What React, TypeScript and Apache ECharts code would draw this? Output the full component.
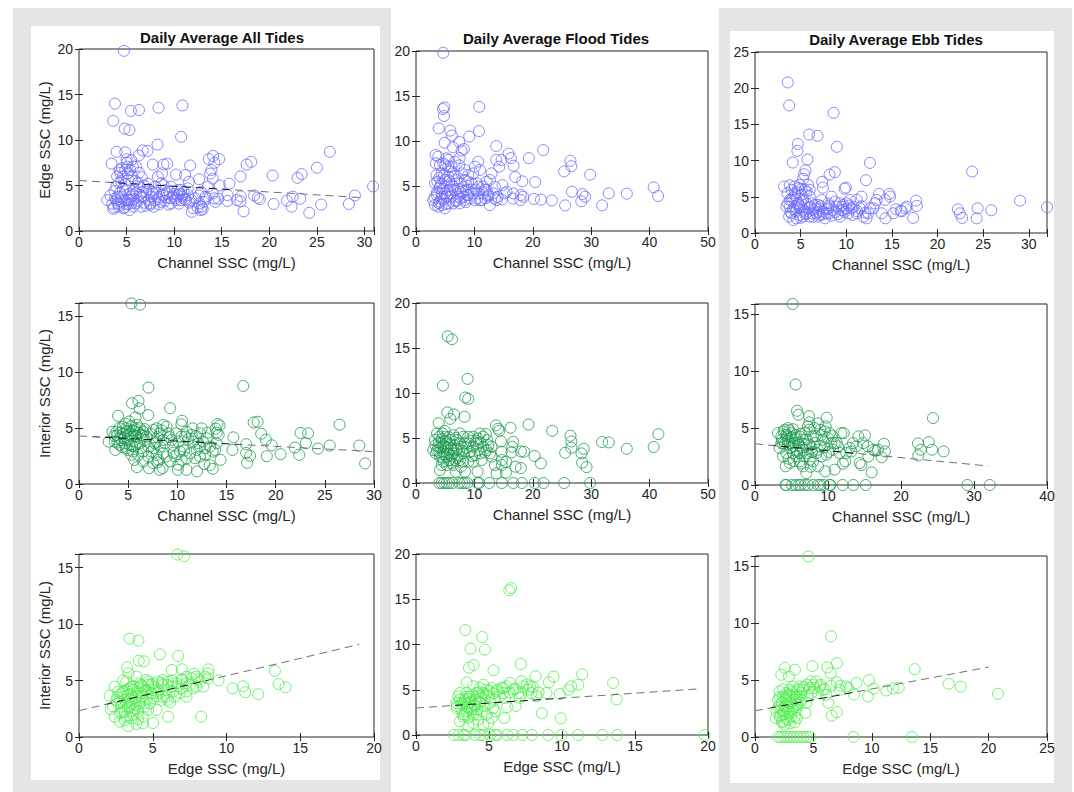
import React, { useEffect, useRef } from 'react';
import * as echarts from 'echarts';

// ---------- Data ----------
const allEdgeVsChannel: [number, number][] = [
  [4.72,19.8],[3.78,14.0],[3.6,12.1],[5.45,13.2],[6.3,13.3],[8.36,13.55],[10.87,13.8],[4.8,11.25],[5.3,11.1],[10.73,10.35],
  [8.25,9.5],[3.95,8.7],[4.86,8.65],[6.7,8.85],[7.2,8.8],[6.3,8.3],[3.43,7.4],[5.03,7.5],[7.76,7.3],[8.88,7.3],
  [9.27,7.4],[11.68,7.2],[13.64,7.9],[14.09,8.25],[14.72,7.9],[14.23,7.5],[13.92,6.7],[13.78,6.3],[14.06,5.75],[10.2,6.2],
  [11.15,6.15],[12.62,5.7],[11.54,5.4],[14.8,5.0],[15.8,5.2],[16.96,6.0],[17.62,7.3],[18.1,7.6],[20.35,6.1],[22.97,5.85],
  [23.4,6.25],[25.0,6.95],[26.36,8.7],[30.9,4.9],[29.0,3.9],[28.36,2.97],[25.45,2.9],[24.2,2.0],[23.25,3.55],[22.45,3.77],
  [22.34,2.67],[21.85,3.33],[20.45,2.97],[19.0,3.5],[18.8,3.66],[18.4,3.9],[17.3,2.16],[16.96,3.26],[17.0,3.8],[16.6,3.4],
  [15.6,3.3],[15.6,3.95],[14.65,3.55],[14.34,3.2],[13.36,3.6],[12.8,2.3],[12.9,2.67],[12.48,2.6],[11.85,2.1],[12.0,2.5],
  [11.8,3.4],[11.43,3.95],[11.0,4.3],[10.56,4.1],[10.0,4.07],[9.69,3.04],[9.23,3.7],[8.8,3.96],[8.4,2.93],[8.1,4.2],
  [7.69,4.32],[7.34,3.4],[7.06,2.78],[6.78,3.66],[7.27,5.2],[6.82,4.98],[6.36,3.96],[6.0,3.04],[5.73,2.67],[5.3,2.3],
  [4.97,2.93],[4.69,2.49],[4.16,2.67],[3.67,2.6],[3.6,2.42],[2.97,3.4],[3.74,4.4],[4.16,5.3],[4.34,6.4],[4.6,5.97],
  [5.1,6.34],[5.38,6.7],[5.66,7.07],[6.0,7.07],[6.2,5.3],[5.77,4.5],[5.49,3.77],[5.14,3.4],[4.5,3.77],[4.1,3.77],
  [3.92,4.87],[4.44,5.42],[4.86,6.7],[5.49,7.8],[5.1,7.07],[4.27,6.7],[6.36,4.87],[6.54,3.77],[7.59,3.77],[8.0,3.4],
  [8.46,3.77],[8.99,4.5],[8.64,5.24],[8.74,6.34],[8.88,5.05],[9.5,4.32],[10.2,3.4],[9.86,3.77],[10.73,3.4],[10.9,3.77],
  [11.26,3.4],[10.38,4.5],[10.73,4.5],[11.43,4.69],[12.83,4.32],[13.29,3.77],[13.53,4.87],[14.06,4.14],[14.23,3.59],[12.66,3.04],
  [7.83,2.67],[7.48,3.04],[6.54,2.67],[5.49,3.04],[6.01,4.14],[7.06,4.32],[8.04,4.87],[9.23,4.14],[9.69,4.87],[8.29,5.97],
  [4.97,4.5],[4.79,3.4],[5.38,3.4],[5.66,3.96],[4.44,3.22],[3.92,3.4],[4.09,3.04],
  [3.5,3.0],[3.8,3.6],[4.3,4.2],[4.6,4.6],[4.9,5.1],[5.2,5.6],[5.6,6.0],[5.9,5.5],[6.3,6.4],[6.6,5.9],
  [4.2,2.9],[4.8,2.6],[5.2,3.0],[5.7,3.5],[6.2,3.3],[6.7,4.3],[7.3,4.6],[7.8,4.1],[8.3,3.5],[8.6,3.2],
  [9.0,3.3],[9.6,3.6],[10.1,3.6],[10.4,3.9],[10.8,4.0],[11.1,3.5],[11.6,3.1],[12.2,3.6],[12.6,3.9],[13.1,3.2],
  [3.3,3.9],[4.0,6.0],[4.5,6.9],[5.0,7.9],[5.3,4.1],[6.9,3.1],[7.5,2.9],[9.4,2.9],[10.5,3.0],[13.0,2.4]
];

const floodEdgeVsChannel: [number, number][] = [
  [4.67,19.8],[4.85,13.74],[4.62,13.55],[4.79,12.78],[10.83,13.8],[3.88,11.4],[10.78,11.1],[5.87,11.15],[6.16,10.6],[9.12,10.5],
  [4.9,9.8],[6.33,9.3],[7.41,9.9],[7.81,8.93],[8.2,9.1],[7.47,8.1],[13.74,9.44],[21.78,9.0],[19.33,8.1],[15.85,8.6],
  [16.25,8.1],[13.74,7.9],[14.65,7.9],[14.25,7.15],[16.7,7.26],[16.99,6.0],[18.19,5.52],[20.41,5.44],[25.37,6.63],[26.45,7.8],
  [26.6,7.2],[29.82,6.26],[26.7,4.37],[28.5,4.1],[28.96,3.8],[28.3,3.3],[25.54,2.85],[31.87,2.85],[33.0,4.18],[36.1,4.15],
  [40.7,4.85],[41.45,3.89],[23.26,3.4],[21.4,3.48],[20.2,3.56],[17.96,4.0],[18.36,3.81],[17.9,3.44],[16.65,4.18],[16.6,3.6],
  [15.22,4.18],[14.82,5.1],[14.7,3.5],[13.97,3.8],[13.5,4.9],[12.94,6.4],[12.66,5.67],[12.09,4.55],[11.86,3.63],[12.66,2.89],
  [11.23,3.44],[10.78,4.18],[10.72,4.93],[10.95,6.78],[10.66,7.7],[10.09,7.15],[9.8,6.4],[9.52,5.3],[8.95,5.48],[8.38,6.78],
  [8.67,4.55],[8.1,3.81],[7.53,4.37],[7.53,3.07],[6.96,3.44],[6.67,4.55],[6.96,5.67],[6.39,6.4],[6.1,5.1],[5.53,7.15],
  [5.25,8.07],[5.53,7.9],[4.67,7.52],[4.1,7.33],[3.42,7.52],[3.36,8.44],[3.82,8.26],[4.39,6.4],[3.65,5.48],[3.25,5.3],
  [3.99,4.74],[4.45,4.18],[3.53,4.0],[2.96,3.44],[3.25,2.89],[3.82,2.7],[4.39,2.89],[4.96,2.52],[5.53,3.07],[5.93,3.81],
  [5.25,4.93],[4.96,5.67],[5.53,6.04],[4.67,3.44],[4.1,3.26],[6.39,3.07],[8.38,3.44],[9.24,3.63],[8.78,4.0],[9.8,4.18],
  [10.09,3.44],[8.1,4.93],[7.53,5.3],[11.52,4.93],[12.09,5.48],[13.23,4.18],[12.37,3.81],[10.38,5.3],[7.24,3.81],[5.25,3.81],
  [5.82,4.55],[4.96,4.18],[4.1,4.93],[8.38,5.67],[7.81,6.4],[8.95,6.22],[6.1,7.15],[6.67,7.7],[13.8,3.44],[13.5,3.63],
  [15.5,4.37],[11.52,4.18],
  [3.2,3.7],[3.6,4.3],[3.9,3.1],[4.3,5.3],[4.6,4.7],[4.8,6.2],[5.1,3.0],[5.4,4.5],[5.7,5.6],[6.0,4.2],
  [6.4,4.9],[6.8,3.3],[7.2,4.7],[7.6,3.6],[8.0,4.4],[8.5,3.2],[9.0,4.0],[9.5,4.6],[10.2,4.6],[10.5,3.6],
  [11.0,3.4],[11.8,4.6],[12.4,4.0],[4.0,5.9],[5.0,7.3],[5.8,6.6],[6.6,6.1],[7.4,7.3],[3.5,6.2],[4.4,3.6]
];

const ebbEdgeVsChannel: [number, number][] = [
  [3.59,20.8],[3.74,17.62],[8.61,16.6],[5.93,13.6],[6.85,13.42],[4.69,12.3],[4.65,11.35],[8.97,11.9],[5.75,10.15],[4.14,9.73],
  [12.6,9.69],[5.53,8.67],[5.38,8.12],[8.75,8.4],[8.17,8.07],[5.27,7.47],[7.36,7.06],[7.44,6.27],[12.16,7.29],[9.82,6.13],
  [9.96,6.27],[3.19,6.41],[3.81,6.6],[23.8,8.49],[29.05,4.47],[32.0,3.55],[25.9,3.14],[24.4,3.41],[24.29,2.03],[22.7,2.08],
  [22.45,2.72],[22.23,3.27],[17.66,4.47],[17.73,3.74],[17.33,2.08],[16.48,3.41],[15.97,3.09],[15.46,3.27],[14.8,5.03],[14.73,5.4],
  [14.29,2.03],[14.25,4.57],[13.6,5.4],[13.33,4.57],[12.97,3.41],[12.23,2.03],[11.68,5.03],[11.14,4.57],[10.77,3.64],[10.4,4.57],
  [10.04,4.1],[9.67,3.18],[9.3,2.26],[8.94,3.64],[8.39,5.03],[8.02,4.1],[8.2,2.72],[7.66,2.03],[7.47,2.95],[7.11,3.41],
  [6.74,2.72],[6.37,3.18],[6.19,4.1],[6.01,5.03],[5.82,6.64],[5.64,5.72],[5.27,4.57],[5.09,3.64],[4.91,2.49],[4.54,2.03],
  [4.18,1.8],[4.0,2.72],[3.81,3.64],[3.55,5.49],[4.0,4.57],[4.36,5.49],[4.73,6.18],[4.91,6.64],[4.54,4.57],[4.36,3.64],
  [3.74,2.26],[5.27,2.26],[5.64,2.72],[5.82,3.41],[6.37,2.26],[6.92,3.87],[7.29,4.57],[7.84,2.72],[8.57,3.18],[8.75,4.34],
  [9.3,4.1],[9.49,3.18],[10.22,2.72],[10.59,3.41],[11.14,2.72],[11.5,3.41],[11.87,2.26],[12.42,2.72],[12.6,3.41],[13.15,4.1],
  [13.88,2.72],[15.16,2.72],[16.08,3.0],[16.63,3.64],[5.46,2.95],[6.01,2.26],[6.92,2.26],[7.11,2.49],[6.56,3.87],[4.91,3.41],
  [4.73,4.1],[5.09,5.26],[5.46,5.95],[6.01,5.95],[4.0,5.95],[4.36,6.41],[3.44,3.64],[3.81,4.57],[4.18,4.8],[8.02,3.41],
  [10.04,3.41],[9.67,3.87],
  [3.9,2.9],[4.2,3.3],[4.5,3.0],[4.8,3.9],[5.0,2.1],[5.3,3.2],[5.5,2.6],[5.7,4.0],[6.0,3.6],[6.3,2.7],
  [6.6,3.4],[6.9,2.9],[7.2,3.7],[7.5,2.6],[7.8,3.3],[8.1,3.8],[8.4,2.4],[8.8,2.9],[9.1,2.6],[9.5,3.6],
  [9.8,2.9],[10.3,3.8],[10.7,2.5],[11.2,3.0],[11.7,3.7],[12.1,2.8],[4.4,5.2],[5.1,6.1],[4.7,5.6],[3.6,4.1]
];

const allInteriorVsChannel: [number, number][] = [
  [5.33,16.16],[6.21,16.04],[7.06,8.63],[16.7,8.78],[9.27,6.79],[3.97,6.1],[5.4,7.23],[6.05,7.44],[6.16,6.76],[5.75,5.96],
  [7.04,6.17],[10.48,5.66],[10.41,5.34],[17.76,5.51],[18.16,5.57],[26.5,5.31],[22.53,4.57],[23.3,4.54],[18.53,4.5],[15.7,4.18],
  [19.0,3.97],[17.0,3.56],[19.6,3.47],[23.07,3.65],[21.95,3.26],[24.3,3.17],[25.5,3.44],[28.5,3.44],[29.1,1.84],[22.4,2.61],
  [20.5,2.67],[19.1,2.49],[17.4,2.52],[17.0,2.79],[17.1,1.9],[15.6,3.05],[14.08,5.37],[14.3,5.25],[13.9,4.95],[14.0,4.6],
  [14.4,2.16],[13.6,1.36],[13.3,1.69],[12.74,1.78],[12.0,1.13],[10.93,1.27],[10.05,1.27],[10.1,1.72],[8.5,1.42],[8.2,1.27],
  [7.97,1.93],[7.53,1.87],[7.12,1.42],[6.52,2.02],[5.9,1.51],[5.63,2.16],[5.33,2.61],[4.82,3.2],[4.3,3.94],[3.63,3.79],
  [3.02,3.79],[3.4,4.68],[3.7,3.05],[3.87,4.33],[4.48,5.13],[4.92,4.77],[5.33,5.19],[5.77,4.89],[6.18,4.98],[6.35,4.39],
  [5.84,4.24],[5.33,4.24],[4.99,4.39],[4.48,4.48],[4.14,4.09],[4.65,3.65],[5.16,3.5],[5.67,3.35],[6.18,3.65],[6.7,3.94],
  [7.04,3.35],[7.55,4.83],[7.89,4.98],[8.23,4.54],[8.57,5.28],[8.91,5.13],[9.08,4.54],[9.42,3.94],[8.74,3.65],[8.23,3.35],
  [7.72,3.65],[7.38,2.91],[7.89,2.61],[8.57,2.76],[8.91,2.46],[9.25,2.02],[9.76,2.46],[10.27,2.91],[10.61,3.35],[10.78,4.24],
  [10.95,4.68],[11.46,4.39],[11.63,3.79],[12.14,3.65],[12.31,4.54],[12.48,4.98],[11.56,4.98],[12.99,4.09],[13.33,3.35],[12.82,2.61],
  [12.31,2.46],[11.97,3.05],[11.29,2.76],[10.95,2.31],[10.44,2.16],[12.82,3.2],[13.84,3.05],[14.0,3.65],[9.9,4.54],[9.56,3.5],
  [10.41,4.24],[6.86,4.24],[7.04,2.46],[6.52,2.91],[6.01,2.61],[5.5,2.91],[4.99,3.05],[4.14,3.5],[3.8,4.68],[4.82,4.68],
  [5.67,4.68],[6.52,4.68],[7.89,3.79],[8.57,3.94],[12.31,3.35],[11.8,2.31],[8.06,2.16],
  [3.6,4.3],[3.9,3.7],[4.2,4.6],[4.4,3.3],[4.6,4.1],[4.8,5.0],[5.0,3.9],[5.2,4.5],[5.4,3.4],[5.5,4.8],
  [5.7,4.3],[5.9,3.7],[6.1,4.6],[6.3,3.2],[6.5,4.3],[6.7,4.9],[4.1,5.0],[4.7,5.4],[5.1,5.6],[5.9,5.3],
  [7.3,4.5],[7.6,3.2],[8.0,4.2],[8.4,4.8],[9.2,4.2],[9.6,2.8],[10.1,3.8],[10.7,3.0],[11.1,4.0],[11.9,4.3],
  [12.6,3.8],[13.1,4.6],[13.6,2.9],[14.2,4.4]
];

const floodInteriorVsChannel: [number, number][] = [
  [5.42,16.3],[6.16,15.97],[8.84,11.57],[4.62,10.83],[8.44,9.5],[8.95,9.35],[5.36,7.84],[6.5,7.62],[5.87,7.13],[8.32,7.36],
  [3.88,6.65],[13.68,6.4],[14.08,6.03],[14.25,5.8],[16.19,6.14],[19.27,6.5],[23.32,5.8],[26.45,5.25],[26.6,4.62],[31.87,4.55],
  [33.0,4.51],[41.5,5.43],[40.7,4.0],[36.1,3.8],[28.73,3.8],[26.6,3.92],[28.34,3.29],[28.45,2.26],[29.2,1.77],[25.54,3.36],
  [20.3,3.0],[21.38,2.18],[18.5,3.47],[17.96,3.51],[17.96,1.66],[17.05,1.81],[16.65,4.58],[16.48,4.03],[16.36,3.4],[15.45,2.33],
  [15.4,1.15],[14.65,3.47],[14.7,2.55],[14.54,4.62],[14.7,2.0],[13.8,1.07],[13.5,2.0],[12.94,2.92],[12.94,4.03],[12.2,4.77],
  [11.97,5.43],[10.95,5.5],[10.55,1.26],[11.23,2.55],[10.95,3.29],[11.52,4.03],[10.38,4.4],[9.8,5.14],[8.95,4.4],[9.24,3.47],
  [8.95,2.37],[9.8,2.37],[8.38,1.26],[7.7,1.81],[7.53,2.55],[6.84,1.26],[6.67,2.55],[6.39,2.0],[5.82,2.55],[5.25,2.0],
  [4.39,2.0],[4.1,1.44],[4.67,2.37],[5.53,3.29],[5.0,4.03],[4.39,4.4],[3.82,4.03],[3.25,4.77],[2.96,3.66],[3.42,3.29],
  [3.99,5.14],[4.56,5.5],[5.02,5.14],[5.82,4.77],[6.39,5.32],[6.96,4.77],[7.53,5.5],[8.1,5.14],[8.38,4.4],[7.81,4.03],
  [6.96,3.66],[6.1,3.84],[5.25,4.4],[4.67,3.47],[4.1,2.92],[5.25,2.92],[6.39,3.29],[7.24,3.1],[8.1,3.29],[8.95,5.14],
  [9.8,4.03],[10.66,3.66],[11.52,5.14],[12.09,3.66],[12.37,4.21],[12.66,3.29],[10.66,4.95],[10.09,3.1],[8.1,2.37],
  [3.3,4.2],[3.6,3.6],[3.9,4.5],[4.2,3.9],[4.4,4.9],[4.7,4.2],[4.9,3.2],[5.1,4.7],[5.4,3.9],[5.6,5.1],
  [5.9,4.3],[6.1,3.0],[6.5,4.2],[6.8,5.0],[7.1,3.8],[7.5,4.4],[7.9,3.6],[8.6,3.9],[9.3,4.7],[9.6,3.0],
  [10.3,4.7],[11.0,4.5],[11.8,3.4],[4.0,3.4],[4.5,2.8],[5.6,2.5],[6.2,2.2],[7.0,2.8],[3.6,5.5],[4.9,5.8],
  [3.99,0],[4.39,0],[4.85,0],[5.25,0],[5.7,0],[6.27,0],[7.41,0],[7.87,0],[8.32,0],[8.78,0],
  [10.55,0],[10.83,0],[12.54,0],[14.71,0],[16.65,0],[18.13,0],[20.35,0],[21.84,0],[25.37,0],[29.82,0]
];

const ebbInteriorVsChannel: [number, number][] = [
  [5.16,15.9],[5.57,8.83],[24.38,5.88],[5.75,6.52],[5.94,6.17],[7.4,6.05],[9.82,5.91],[7.44,5.5],[7.44,4.85],[8.63,5.41],
  [8.95,4.85],[23.8,3.77],[22.33,3.65],[22.7,3.1],[22.37,2.6],[24.25,3.1],[25.84,2.95],[17.67,3.63],[17.8,2.95],[17.35,2.43],
  [16.48,3.01],[15.53,2.51],[15.98,1.11],[15.07,4.36],[14.16,4.27],[14.8,3.68],[14.34,1.93],[14.57,1.75],[13.42,3.68],[12.97,3.25],
  [12.15,4.56],[11.83,4.56],[12.37,2.08],[12.05,1.87],[10.91,1.35],[9.63,1.2],[10.68,3.1],[10.46,3.68],[10.0,4.12],[9.32,3.98],
  [8.86,3.39],[8.4,2.81],[8.63,1.64],[7.95,2.08],[7.49,2.22],[7.03,1.05],[6.58,1.64],[6.12,2.08],[5.66,2.51],[5.21,2.81],
  [4.75,1.93],[4.2,1.64],[3.84,2.51],[3.38,3.25],[3.15,4.56],[3.61,4.27],[4.06,4.85],[4.52,5.0],[4.38,4.27],[4.98,4.56],
  [5.43,4.12],[3.84,3.68],[4.52,3.54],[5.21,3.39],[5.89,3.68],[6.12,4.27],[6.58,3.98],[7.03,3.54],[6.58,3.1],[7.26,2.81],
  [7.72,3.25],[8.17,3.68],[7.95,4.27],[9.54,4.71],[9.68,5.15],[10.23,4.56],[10.91,3.68],[11.37,3.39],[11.6,2.81],[12.51,2.81],
  [13.2,2.95],[13.88,3.39],[15.48,3.39],[16.16,3.1],[16.85,3.1],[9.77,2.66],[9.09,2.51],[6.12,2.81],[5.66,3.1],[4.29,2.81],
  [3.61,3.68],[4.75,3.68],[6.8,4.56],[7.26,5.15],[8.17,5.0],
  [3.7,4.0],[3.9,4.7],[4.1,3.6],[4.3,4.4],[4.5,3.9],[4.7,4.8],[4.9,3.3],[5.0,4.2],[5.2,4.9],[5.4,3.7],
  [5.6,4.4],[5.8,3.0],[6.0,3.5],[6.3,4.5],[6.5,3.3],[6.8,2.5],[7.1,4.0],[7.5,3.5],[7.8,2.9],[8.3,4.3],
  [8.6,3.1],[9.1,4.4],[9.5,3.3],[10.1,2.9],[10.6,4.3],[11.2,3.7],[4.6,2.3],[5.3,2.1],[6.3,1.9],[7.6,1.6],
  [4.16,0],[4.29,0],[5.07,0],[5.57,0],[5.98,0],[6.26,0],[6.8,0],[7.26,0],[7.95,0],[8.63,0],
  [8.95,0],[9.41,0],[10.23,0],[10.32,0],[12.0,0],[13.47,0],[15.16,0],[29.09,0],[32.15,0]
];

const allInteriorVsEdge: [number, number][] = [
  [6.67,16.15],[7.13,16.0],[3.42,8.71],[4.03,8.53],[4.05,6.76],[4.39,6.7],[5.48,7.32],[6.72,7.17],[3.26,6.17],[3.35,5.64],
  [6.29,5.93],[6.97,5.99],[8.78,5.99],[9.46,5.02],[8.73,5.2],[13.28,5.85],[13.53,4.69],[14.0,4.4],[11.13,4.49],[11.27,3.96],
  [10.41,4.31],[12.15,3.78],[8.28,1.8],[6.18,3.07],[6.04,1.8],[5.02,1.24],[4.34,1.21],[3.89,1.15],[3.33,0.97],[2.76,1.36],
  [2.42,1.8],[2.08,3.66],[2.15,2.45],[2.42,4.46],[2.65,2.98],[2.99,3.57],[3.21,4.16],[3.55,4.46],[3.89,5.34],[4.12,4.75],
  [4.57,5.05],[5.02,4.75],[5.36,4.9],[5.7,4.61],[5.93,4.16],[6.27,4.46],[6.61,4.75],[6.95,4.31],[7.29,4.75],[7.62,5.2],
  [7.96,5.34],[8.19,4.9],[7.74,4.31],[7.29,4.02],[6.83,3.87],[6.38,4.02],[5.93,3.57],[5.59,3.28],[5.25,3.57],[4.91,3.87],
  [4.57,4.16],[4.23,3.87],[3.89,3.57],[3.55,3.28],[3.21,2.98],[2.87,2.69],[3.1,2.24],[3.44,2.69],[3.67,1.95],[4.0,2.24],
  [4.34,1.8],[4.68,2.39],[4.8,2.98],[4.46,2.98],[4.12,2.98],[3.78,2.54],[3.55,1.65],[3.1,1.51],[2.76,2.1],[2.53,3.28],
  [2.87,3.87],[3.33,3.72],[3.67,4.16],[4.0,4.31],[4.34,4.46],[4.68,4.61],[5.02,4.16],[5.36,3.87],[5.7,3.57],[6.04,3.28],
  [6.49,3.57],[7.29,3.57],[7.96,4.46],[8.42,4.46],[8.53,5.34],[8.76,5.64],[7.29,5.34],[6.95,5.05],[6.04,4.9],[5.7,5.05],
  [4.91,4.61],[3.21,4.9],[2.65,4.02],[2.31,2.69],[5.25,2.39],[5.02,3.43],
  [2.6,3.5],[2.8,3.1],[3.0,4.0],[3.1,3.3],[3.3,2.6],[3.4,4.3],[3.5,3.8],[3.6,3.0],[3.7,4.5],[3.8,3.4],
  [3.9,2.8],[4.0,4.0],[4.1,3.2],[4.2,4.6],[4.3,3.6],[4.4,2.6],[4.5,4.1],[4.6,3.4],[4.7,4.9],[4.9,3.9],
  [5.1,4.4],[5.4,4.1],[5.6,4.8],[6.0,4.6],[6.3,5.0],[6.7,4.5],[7.0,5.1],[7.5,4.6],[7.8,5.6],[8.1,5.1],
  [2.9,2.2],[3.2,1.8],[3.6,2.3],[4.0,1.6],[3.0,5.0]
];

const floodInteriorVsEdge: [number, number][] = [
  [6.39,15.99],[6.52,16.24],[3.38,11.6],[4.54,10.83],[3.74,9.54],[4.72,9.43],[3.95,7.73],[3.63,7.44],[7.18,7.85],[5.31,7.15],
  [3.47,5.82],[11.38,6.7],[11.11,5.56],[10.63,5.38],[10.45,5.01],[9.42,6.45],[9.1,5.82],[8.19,6.48],[13.5,5.75],[13.75,3.94],
  [9.85,4.53],[8.94,4.64],[8.62,2.39],[9.92,1.84],[6.04,1.88],[6.82,3.2],[6.25,3.09],[2.78,2.98],[3.01,1.51],[3.24,2.06],
  [3.58,0.96],[3.92,1.33],[4.26,1.69],[4.61,1.14],[4.95,1.33],[5.18,1.88],[4.84,2.25],[4.49,2.62],[4.15,2.25],[3.81,2.8],
  [3.47,2.62],[3.12,3.54],[2.9,4.27],[3.01,4.64],[3.35,3.9],[3.69,3.54],[4.04,3.9],[4.38,4.27],[4.61,4.64],[4.84,5.01],
  [5.18,5.19],[5.52,4.82],[5.87,5.19],[6.2,5.38],[6.43,5.75],[6.66,5.01],[7.0,4.64],[7.34,5.38],[7.69,5.01],[7.91,4.64],
  [8.26,4.27],[7.23,5.93],[7.8,5.38],[5.75,4.27],[5.41,3.9],[5.07,3.54],[5.29,2.98],[4.95,4.27],[4.38,3.54],[4.04,3.17],
  [3.69,4.27],[3.47,4.64],[3.92,5.38],[4.38,5.19],[4.61,5.56],[3.24,3.35],[3.58,3.54],[2.78,3.54],[4.15,4.64],[5.98,4.64],
  [6.09,4.09],[7.11,4.09],[5.41,2.62],[3.92,2.25],[3.35,2.25],
  [2.8,3.2],[3.0,3.9],[3.1,2.9],[3.3,3.6],[3.4,4.2],[3.5,3.1],[3.6,4.0],[3.7,2.9],[3.8,3.7],[3.9,4.4],
  [4.0,3.3],[4.1,3.9],[4.2,2.8],[4.3,4.7],[4.4,3.7],[4.5,4.1],[4.7,3.2],[4.8,4.5],[5.0,4.9],[5.3,4.6],
  [5.6,5.0],[6.0,5.2],[6.4,4.7],[6.8,5.1],[7.2,4.6],[7.6,5.6],[8.0,5.3],[8.4,4.7],[3.2,2.3],[3.6,1.9],
  [2.6,0],[2.9,0],[3.24,0],[3.42,0],[4.04,0],[4.38,0],[4.61,0],[5.07,0],[5.41,0],[5.57,0],
  [6.25,0],[6.66,0],[7.3,0],[7.94,0],[9.05,0],[9.96,0],[11.11,0],[12.77,0],[13.77,0],[19.77,0]
];

const ebbInteriorVsEdge: [number, number][] = [
  [4.57,15.85],[6.51,8.83],[7.02,6.49],[4.91,6.23],[6.19,6.11],[13.67,5.96],[2.54,6.08],[3.42,5.91],[2.25,5.47],[2.91,5.32],
  [6.48,5.61],[9.76,5.0],[16.58,4.68],[17.61,4.42],[20.8,3.8],[8.68,4.74],[8.48,3.74],[9.67,3.57],[10.16,4.24],[11.24,4.09],
  [11.82,4.27],[12.3,4.33],[7.99,4.3],[7.31,4.5],[6.56,1.87],[7.0,2.19],[4.31,2.13],[4.39,2.98],[6.28,3.01],[6.11,3.71],
  [5.54,4.44],[4.97,4.59],[4.82,3.86],[4.45,4.59],[4.11,4.15],[3.82,4.44],[3.54,4.01],[3.25,4.44],[2.97,4.15],[2.68,3.86],
  [2.4,3.57],[2.11,4.01],[1.97,3.27],[2.11,2.84],[1.83,2.25],[1.77,1.67],[2.11,1.81],[2.4,1.37],[2.54,1.08],[2.83,1.52],
  [3.11,1.81],[3.4,1.29],[3.6,1.67],[3.25,2.4],[2.83,2.25],[2.54,2.69],[2.97,2.98],[3.4,3.27],[3.82,3.57],[3.68,2.84],
  [2.68,3.13],[2.25,2.4],[3.11,3.57],[3.4,3.71],[5.25,4.88],[5.82,4.15],[5.39,3.86],[4.68,4.3],[7.25,4.15],[7.82,4.44],
  [3.54,2.4],[3.97,3.27],[2.4,1.96],[2.68,3.57],
  [2.0,2.6],[2.1,3.5],[2.2,1.9],[2.3,3.0],[2.4,4.2],[2.5,2.3],[2.6,3.4],[2.7,1.6],[2.8,2.7],[2.9,3.7],
  [3.0,2.2],[3.1,3.0],[3.2,4.0],[3.3,2.6],[3.4,1.8],[3.5,3.5],[3.6,2.9],[3.7,4.2],[3.9,3.0],[4.0,3.9],
  [4.2,4.4],[4.5,3.6],[4.8,4.9],[5.1,4.3],[5.6,4.6],[6.0,4.2],[6.5,4.5],[7.0,4.8],[2.3,1.3],[3.0,1.2],
  [1.97,0],[2.2,0],[2.45,0],[2.74,0],[3.03,0],[3.31,0],[3.6,0],[3.88,0],[4.17,0],[4.45,0],
  [4.74,0],[8.42,0],[13.44,0]
];

// Regression (dashed) lines: endpoints [x, y]
const allEdgeFit: [number, number][] = [[0, 5.55], [30, 3.65]];
const allInteriorFit: [number, number][] = [[0, 4.3], [30, 2.9]];
const ebbInteriorFit: [number, number][] = [[0, 3.62], [32, 1.67]];
const allInteriorEdgeFit: [number, number][] = [[0, 2.33], [19, 8.2]];
const floodInteriorEdgeFit: [number, number][] = [[0, 2.98], [19.4, 5.1]];
const ebbInteriorEdgeFit: [number, number][] = [[0, 2.3], [20, 6.14]];

const titles = ['Daily Average All Tides', 'Daily Average Flood Tides', 'Daily Average Ebb Tides'];
const xNames = ['Channel SSC (mg/L)', 'Channel SSC (mg/L)', 'Edge SSC (mg/L)'];
const yNames = ['Edge SSC (mg/L)', 'Interior SSC (mg/L)', 'Interior SSC (mg/L)'];

// ---------- Styling ----------
const BLUE = '#6c6cff';
const GREEN = '#1d9a50';
const LIGHT = '#4cee4c';
const TXT = '#262626';
const FONT = '"Liberation Sans", Arial, Helvetica, sans-serif';

type Panel = {
  box: [number, number, number, number];
  xMax: number; xInt: number; yMax: number; yInt: number;
  data: [number, number][]; color: string;
  fit?: [number, number][]; fitStops?: [number, number];
  xName: string; yName?: string;
};

const panels: Panel[] = [
  { box: [79, 49, 295, 182], xMax: 31, xInt: 5, yMax: 20, yInt: 5, data: allEdgeVsChannel, color: BLUE, fit: allEdgeFit, fitStops: [0.12, 0.52], xName: xNames[0], yName: yNames[0] },
  { box: [416, 51, 292, 180], xMax: 50, xInt: 10, yMax: 20, yInt: 5, data: floodEdgeVsChannel, color: BLUE, xName: xNames[0] },
  { box: [755, 52, 292, 181], xMax: 32, xInt: 5, yMax: 25, yInt: 5, data: ebbEdgeVsChannel, color: BLUE, xName: xNames[0] },
  { box: [79, 303, 295, 181], xMax: 30, xInt: 5, yMax: 16.2, yInt: 5, data: allInteriorVsChannel, color: GREEN, fit: allInteriorFit, fitStops: [0.06, 0.53], xName: xNames[1], yName: yNames[1] },
  { box: [416, 303, 292, 180], xMax: 50, xInt: 10, yMax: 20, yInt: 5, data: floodInteriorVsChannel, color: GREEN, xName: xNames[1] },
  { box: [755, 304, 292, 181], xMax: 40, xInt: 10, yMax: 15.9, yInt: 5, data: ebbInteriorVsChannel, color: GREEN, fit: ebbInteriorFit, fitStops: [0.09, 0.43], xName: xNames[1] },
  { box: [79, 554, 295, 183], xMax: 20, xInt: 5, yMax: 16.2, yInt: 5, data: allInteriorVsEdge, color: LIGHT, fit: allInteriorEdgeFit, fitStops: [0.11, 0.45], xName: xNames[2], yName: yNames[2] },
  { box: [416, 554, 292, 181], xMax: 20, xInt: 5, yMax: 20, yInt: 5, data: floodInteriorVsEdge, color: LIGHT, fit: floodInteriorEdgeFit, fitStops: [0.13, 0.51], xName: xNames[2] },
  { box: [755, 556, 292, 181], xMax: 25, xInt: 5, yMax: 15.9, yInt: 5, data: ebbInteriorVsEdge, color: LIGHT, fit: ebbInteriorEdgeFit, fitStops: [0.08, 0.42], xName: xNames[2] },
];

function tickFormatter(interval: number) {
  return (v: number) => {
    const r = v / interval;
    return Math.abs(r - Math.round(r)) < 1e-6 ? String(Math.round(v)) : '';
  };
}

function buildOption() {
  const grid: any[] = [];
  const xAxis: any[] = [];
  const yAxis: any[] = [];
  const series: any[] = [];
  const tick = { show: true, inside: true, length: 4, lineStyle: { color: TXT, width: 1 } };

  panels.forEach((p, i) => {
    const [left, top, width, height] = p.box;
    grid.push({ left, top, width, height, show: true, borderColor: TXT, borderWidth: 1, backgroundColor: 'rgba(0,0,0,0)', containLabel: false });
    const xBase = { type: 'value', gridIndex: i, min: 0, max: p.xMax, interval: p.xInt, splitLine: { show: false }, axisLine: { show: false }, axisTick: tick };
    const yBase = { type: 'value', gridIndex: i, min: 0, max: p.yMax, interval: p.yInt, splitLine: { show: false }, axisLine: { show: false }, axisTick: tick };
    xAxis.push({
      ...xBase, position: 'bottom',
      axisLabel: { show: true, fontSize: 14, color: TXT, fontFamily: FONT, margin: 4, formatter: tickFormatter(p.xInt) },
      name: p.xName, nameLocation: 'middle', nameGap: 24,
      nameTextStyle: { fontSize: 15, color: TXT, fontFamily: FONT },
    });
    xAxis.push({ ...xBase, position: 'top', axisLabel: { show: false } });
    yAxis.push({
      ...yBase, position: 'left',
      axisLabel: { show: true, fontSize: 14, color: TXT, fontFamily: FONT, margin: 6, formatter: tickFormatter(p.yInt) },
      name: p.yName || '', nameLocation: 'middle', nameGap: 27,
      nameTextStyle: { fontSize: 15, color: TXT, fontFamily: FONT },
    });
    yAxis.push({ ...yBase, position: 'right', axisLabel: { show: false } });

    series.push({
      type: 'scatter', xAxisIndex: 2 * i, yAxisIndex: 2 * i, data: p.data,
      symbol: 'circle', symbolSize: 11, silent: true,
      itemStyle: { color: 'rgba(0,0,0,0)', borderColor: p.color, borderWidth: 1 },
      z: 3,
    });
    if (p.fit && p.fitStops) {
      const [a, b] = p.fitStops;
      const gray = '#707070';
      const dark = '#111111';
      series.push({
        type: 'line', xAxisIndex: 2 * i, yAxisIndex: 2 * i, data: p.fit,
        symbol: 'none', silent: true, z: 5,
        lineStyle: {
          width: 1, type: [8, 5],
          color: new echarts.graphic.LinearGradient(0, 0, 1, 0, [
            { offset: 0, color: gray },
            { offset: Math.max(0, a - 0.02), color: gray },
            { offset: a, color: dark },
            { offset: b, color: dark },
            { offset: Math.min(1, b + 0.02), color: gray },
            { offset: 1, color: gray },
          ]),
        },
      });
    }
  });

  const titlePos: [number, number][] = [[222, 37], [556, 38], [896, 39]];
  const graphic: any[] = [
    { type: 'rect', z: -10, silent: true, shape: { x: 13, y: 8, width: 378, height: 784 }, style: { fill: '#e5e5e5' } },
    { type: 'rect', z: -9, silent: true, shape: { x: 31, y: 26, width: 349, height: 754 }, style: { fill: '#ffffff' } },
    { type: 'rect', z: -10, silent: true, shape: { x: 719, y: 8, width: 353, height: 784 }, style: { fill: '#e5e5e5' } },
    { type: 'rect', z: -9, silent: true, shape: { x: 730, y: 31, width: 324, height: 752 }, style: { fill: '#ffffff' } },
    ...titles.map((t, k) => ({
      type: 'text', z: 50, silent: true, x: titlePos[k][0], y: titlePos[k][1],
      style: { text: t, fill: '#111111', font: `bold 15px ${FONT}`, textAlign: 'center', textVerticalAlign: 'middle' },
    })),
  ];

  return { animation: false, backgroundColor: '#ffffff', grid, xAxis, yAxis, series, graphic };
}

export default function App() {
  const ref = useRef<HTMLDivElement>(null);
  useEffect(() => {
    if (!ref.current) return;
    const chart = echarts.init(ref.current, undefined, { renderer: 'svg' });
    chart.setOption(buildOption() as any);
    return () => chart.dispose();
  }, []);
  return <div ref={ref} style={{ position: 'fixed', left: 0, top: 0, width: 1074, height: 792 }} />;
}
